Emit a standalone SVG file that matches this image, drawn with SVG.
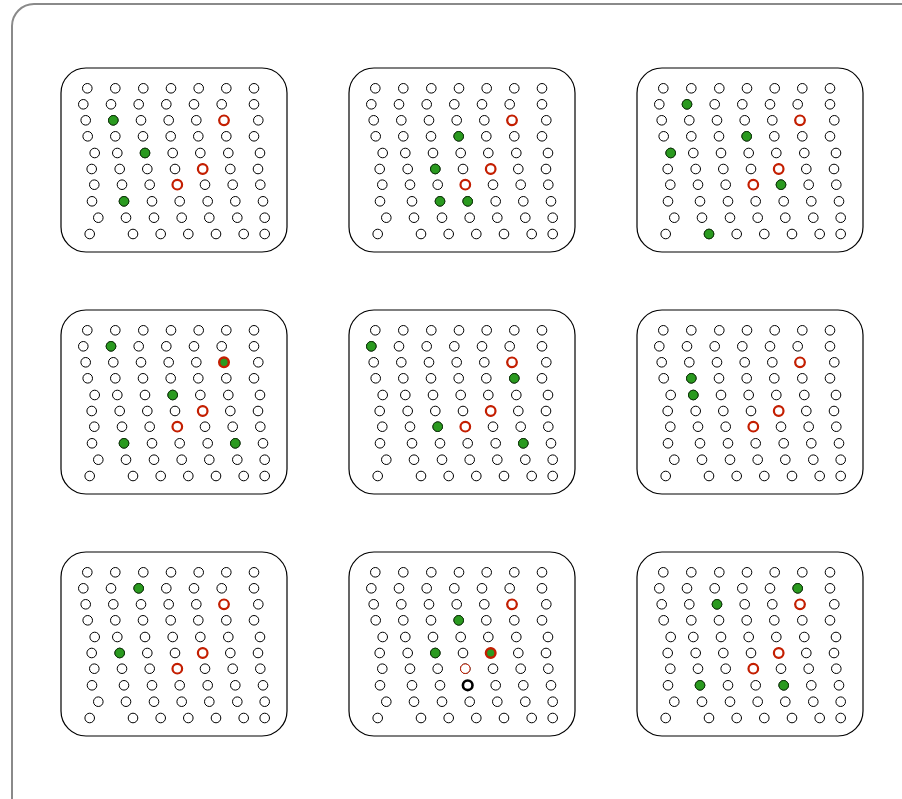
<svg xmlns="http://www.w3.org/2000/svg" xmlns:xlink="http://www.w3.org/1999/xlink" width="902" height="799" viewBox="0 0 902 799">
<style>
.frame{fill:#fff;stroke:#8a8a8a;stroke-width:2}
.panel{fill:#fff;stroke:#000;stroke-width:1.2}
circle{r:4.8px}
.d{fill:#fff;stroke:#000;stroke-width:1}
.g{fill:#2a9a1f;stroke:#0d3a08;stroke-width:1}
.r{fill:#fff;stroke:#c41e00;stroke-width:2.2}
.rt{fill:#fff;stroke:#c41e00;stroke-width:1}
.gr{fill:#2a9a1f;stroke:#c41e00;stroke-width:2.4}
.k{fill:#fff;stroke:#000;stroke-width:2.6}
</style>
<defs>
<g id="grid">
<rect class="panel" x="0" y="0" width="226" height="184" rx="25" ry="25"/>
<g class="dots">
<circle class="d" cx="26.3" cy="20.3" r="4.8"/><circle class="d" cx="54.3" cy="20.3" r="4.8"/><circle class="d" cx="82.3" cy="20.3" r="4.8"/><circle class="d" cx="110" cy="20.3" r="4.8"/><circle class="d" cx="137.7" cy="20.3" r="4.8"/><circle class="d" cx="165.3" cy="20.3" r="4.8"/><circle class="d" cx="193" cy="20.3" r="4.8"/>
<circle class="d" cx="22.3" cy="36.3" r="4.8"/><circle class="d" cx="50" cy="36.3" r="4.8"/><circle class="d" cx="77.7" cy="36.3" r="4.8"/><circle class="d" cx="105.3" cy="36.3" r="4.8"/><circle class="d" cx="133" cy="36.3" r="4.8"/><circle class="d" cx="160.7" cy="36.3" r="4.8"/><circle class="d" cx="193" cy="36.3" r="4.8"/>
<circle class="d" cx="24.7" cy="52.3" r="4.8"/><circle class="d" cx="52.3" cy="52.3" r="4.8"/><circle class="d" cx="80" cy="52.3" r="4.8"/><circle class="d" cx="107.7" cy="52.3" r="4.8"/><circle class="d" cx="135.3" cy="52.3" r="4.8"/><circle class="d" cx="163" cy="52.3" r="4.8"/><circle class="d" cx="197.3" cy="52.3" r="4.8"/>
<circle class="d" cx="26.7" cy="68.3" r="4.8"/><circle class="d" cx="54.3" cy="68.3" r="4.8"/><circle class="d" cx="82" cy="68.3" r="4.8"/><circle class="d" cx="109.7" cy="68.3" r="4.8"/><circle class="d" cx="137.3" cy="68.3" r="4.8"/><circle class="d" cx="165.3" cy="68.3" r="4.8"/><circle class="d" cx="193" cy="68.3" r="4.8"/>
<circle class="d" cx="33.7" cy="85" r="4.8"/><circle class="d" cx="56.3" cy="85" r="4.8"/><circle class="d" cx="84" cy="85" r="4.8"/><circle class="d" cx="111.7" cy="85" r="4.8"/><circle class="d" cx="139.3" cy="85" r="4.8"/><circle class="d" cx="167.3" cy="85" r="4.8"/><circle class="d" cx="199" cy="85" r="4.8"/>
<circle class="d" cx="30.7" cy="101" r="4.8"/><circle class="d" cx="58.7" cy="101" r="4.8"/><circle class="d" cx="86.3" cy="101" r="4.8"/><circle class="d" cx="114" cy="101" r="4.8"/><circle class="d" cx="141.7" cy="101" r="4.8"/><circle class="d" cx="169.3" cy="101" r="4.8"/><circle class="d" cx="197" cy="101" r="4.8"/>
<circle class="d" cx="33.3" cy="116.7" r="4.8"/><circle class="d" cx="61" cy="116.7" r="4.8"/><circle class="d" cx="88.7" cy="116.7" r="4.8"/><circle class="d" cx="116.3" cy="116.7" r="4.8"/><circle class="d" cx="144" cy="116.7" r="4.8"/><circle class="d" cx="171.7" cy="116.7" r="4.8"/><circle class="d" cx="199.3" cy="116.7" r="4.8"/>
<circle class="d" cx="31" cy="133.3" r="4.8"/><circle class="d" cx="63" cy="133.3" r="4.8"/><circle class="d" cx="91" cy="133.3" r="4.8"/><circle class="d" cx="118.7" cy="133.3" r="4.8"/><circle class="d" cx="146.7" cy="133.3" r="4.8"/><circle class="d" cx="174.3" cy="133.3" r="4.8"/><circle class="d" cx="202" cy="133.3" r="4.8"/>
<circle class="d" cx="37.3" cy="149.7" r="4.8"/><circle class="d" cx="65" cy="149.7" r="4.8"/><circle class="d" cx="93" cy="149.7" r="4.8"/><circle class="d" cx="120.7" cy="149.7" r="4.8"/><circle class="d" cx="148.3" cy="149.7" r="4.8"/><circle class="d" cx="176.3" cy="149.7" r="4.8"/><circle class="d" cx="203.7" cy="149.7" r="4.8"/>
<circle class="d" cx="28.7" cy="166" r="4.8"/><circle class="d" cx="72" cy="166" r="4.8"/><circle class="d" cx="99.7" cy="166" r="4.8"/><circle class="d" cx="127.3" cy="166" r="4.8"/><circle class="d" cx="155" cy="166" r="4.8"/><circle class="d" cx="182.7" cy="166" r="4.8"/><circle class="d" cx="203.7" cy="166" r="4.8"/>
</g>
</g>
</defs>
<rect class="frame" x="12" y="4" width="912" height="820" rx="22" ry="22"/>
<g id="connectors"/>

<g id="panel-1" transform="translate(61,68)">
<use href="#grid"/>
<circle class="g" cx="52.3" cy="52.3" r="4.8"/><circle class="g" cx="84" cy="85" r="4.8"/><circle class="g" cx="63" cy="133.3" r="4.8"/>
<circle class="r" cx="163" cy="52.3" r="4.8"/><circle class="r" cx="141.7" cy="101" r="4.8"/><circle class="r" cx="116.3" cy="116.7" r="4.8"/>
</g>

<g id="panel-2" transform="translate(349,68)">
<use href="#grid"/>
<circle class="g" cx="109.7" cy="68.3" r="4.8"/><circle class="g" cx="86.3" cy="101" r="4.8"/><circle class="g" cx="91" cy="133.3" r="4.8"/><circle class="g" cx="118.7" cy="133.3" r="4.8"/>
<circle class="r" cx="163" cy="52.3" r="4.8"/><circle class="r" cx="141.7" cy="101" r="4.8"/><circle class="r" cx="116.3" cy="116.7" r="4.8"/>
</g>

<g id="panel-3" transform="translate(637,68)">
<use href="#grid"/>
<circle class="g" cx="50" cy="36.3" r="4.8"/><circle class="g" cx="109.7" cy="68.3" r="4.8"/><circle class="g" cx="33.7" cy="85" r="4.8"/><circle class="g" cx="144" cy="116.7" r="4.8"/><circle class="g" cx="72" cy="166" r="4.8"/>
<circle class="r" cx="163" cy="52.3" r="4.8"/><circle class="r" cx="141.7" cy="101" r="4.8"/><circle class="r" cx="116.3" cy="116.7" r="4.8"/>
</g>

<g id="panel-4" transform="translate(61,310)">
<use href="#grid"/>
<circle class="g" cx="50" cy="36.3" r="4.8"/><circle class="g" cx="111.7" cy="85" r="4.8"/><circle class="g" cx="63" cy="133.3" r="4.8"/><circle class="g" cx="174.3" cy="133.3" r="4.8"/>
<circle class="gr" cx="163" cy="52.3" r="4.8"/><circle class="r" cx="141.7" cy="101" r="4.8"/><circle class="r" cx="116.3" cy="116.7" r="4.8"/>
</g>

<g id="panel-5" transform="translate(349,310)">
<use href="#grid"/>
<circle class="g" cx="22.3" cy="36.3" r="4.8"/><circle class="g" cx="165.3" cy="68.3" r="4.8"/><circle class="g" cx="88.7" cy="116.7" r="4.8"/><circle class="g" cx="174.3" cy="133.3" r="4.8"/>
<circle class="r" cx="163" cy="52.3" r="4.8"/><circle class="r" cx="141.7" cy="101" r="4.8"/><circle class="r" cx="116.3" cy="116.7" r="4.8"/>
</g>

<g id="panel-6" transform="translate(637,310)">
<use href="#grid"/>
<circle class="g" cx="54.3" cy="68.3" r="4.8"/><circle class="g" cx="56.3" cy="85" r="4.8"/>
<circle class="r" cx="163" cy="52.3" r="4.8"/><circle class="r" cx="141.7" cy="101" r="4.8"/><circle class="r" cx="116.3" cy="116.7" r="4.8"/>
</g>

<g id="panel-7" transform="translate(61,552)">
<use href="#grid"/>
<circle class="g" cx="77.7" cy="36.3" r="4.8"/><circle class="g" cx="58.7" cy="101" r="4.8"/>
<circle class="r" cx="163" cy="52.3" r="4.8"/><circle class="r" cx="141.7" cy="101" r="4.8"/><circle class="r" cx="116.3" cy="116.7" r="4.8"/>
</g>

<g id="panel-8" transform="translate(349,552)">
<use href="#grid"/>
<circle class="g" cx="109.7" cy="68.3" r="4.8"/><circle class="g" cx="86.3" cy="101" r="4.8"/>
<circle class="r" cx="163" cy="52.3" r="4.8"/><circle class="gr" cx="141.7" cy="101" r="4.8"/><circle class="rt" cx="116.3" cy="116.7" r="4.8"/>
<circle class="k" cx="118.7" cy="133.3" r="4.8"/>
</g>

<g id="panel-9" transform="translate(637,552)">
<use href="#grid"/>
<circle class="g" cx="160.7" cy="36.3" r="4.8"/><circle class="g" cx="80" cy="52.3" r="4.8"/><circle class="g" cx="63" cy="133.3" r="4.8"/><circle class="g" cx="146.7" cy="133.3" r="4.8"/>
<circle class="r" cx="163" cy="52.3" r="4.8"/><circle class="r" cx="141.7" cy="101" r="4.8"/><circle class="r" cx="116.3" cy="116.7" r="4.8"/>
</g>
</svg>
